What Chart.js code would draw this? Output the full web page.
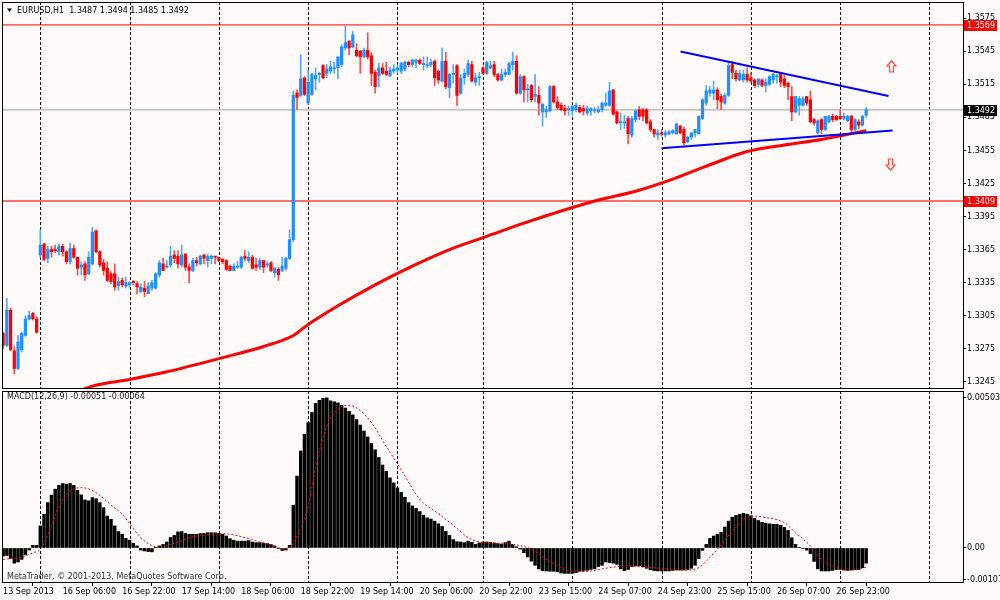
<!DOCTYPE html>
<html><head><meta charset="utf-8">
<script src="https://cdn.jsdelivr.net/npm/chart.js@4.4.1/dist/chart.umd.min.js"></script>
<style>
html,body{margin:0;padding:0;background:#fffafa;}
#wrap{position:relative;width:1000px;height:600px;overflow:hidden;background:#fffafa;}
#c1{position:absolute;left:0;top:0;}
#c2{position:absolute;left:0;top:390px;}
</style></head><body>
<div id="wrap"><canvas id="c1" width="1000" height="390"></canvas><canvas id="c2" width="1000" height="210"></canvas></div>
<script>
const symbolTitle = 'EURUSD,H1';
const open = [
1.3289,1.3278,1.3310,1.3273,1.3257,1.3274,1.3287,1.3302,1.3307,1.3302,
1.3360,1.3370,1.3357,1.3365,1.3365,1.3363,1.3368,1.3363,1.3354,1.3366,
1.3358,1.3349,1.3352,1.3343,1.3352,1.3382,1.3363,1.3353,1.3348,1.3343,
1.3343,1.3332,1.3337,1.3332,1.3333,1.3336,1.3334,1.3327,1.3330,1.3325,
1.3330,1.3330,1.3342,1.3352,1.3349,1.3351,1.3360,1.3359,1.3351,1.3361,
1.3349,1.3346,1.3355,1.3352,1.3360,1.3355,1.3357,1.3359,1.3358,1.3356,
1.3355,1.3350,1.3346,1.3349,1.3349,1.3359,1.3355,1.3358,1.3351,1.3349,
1.3355,1.3351,1.3353,1.3344,1.3347,1.3346,1.3348,1.3357,1.3374,1.3507,
1.3505,1.3521,1.3498,1.3506,1.3520,1.3524,1.3532,1.3525,1.3527,1.3529,
1.3530,1.3533,1.3548,1.3554,1.3549,1.3546,1.3545,1.3540,1.3546,1.3541,
1.3526,1.3523,1.3530,1.3527,1.3523,1.3527,1.3528,1.3527,1.3529,1.3535,
1.3533,1.3535,1.3537,1.3533,1.3532,1.3533,1.3536,1.3527,1.3518,1.3536,
1.3512,1.3524,1.3532,1.3507,1.3521,1.3524,1.3533,1.3517,1.3521,1.3530,
1.3525,1.3530,1.3533,1.3524,1.3519,1.3524,1.3524,1.3533,1.3536,1.3507,
1.3522,1.3510,1.3514,1.3504,1.3505,1.3490,1.3490,1.3491,1.3513,1.3499,
1.3496,1.3493,1.3492,1.3491,1.3492,1.3494,1.3493,1.3489,1.3491,1.3491,
1.3490,1.3492,1.3496,1.3496,1.3510,1.3490,1.3480,1.3480,1.3484,1.3469,
1.3483,1.3492,1.3492,1.3492,1.3481,1.3474,1.3469,1.3471,1.3469,1.3470,
1.3471,1.3470,1.3477,1.3474,1.3463,1.3467,1.3471,1.3470,1.3484,1.3498,
1.3507,1.3507,1.3510,1.3504,1.3498,1.3505,1.3533,1.3525,1.3519,1.3519,
1.3524,1.3521,1.3519,1.3515,1.3519,1.3514,1.3515,1.3519,1.3522,1.3524,
1.3520,1.3516,1.3504,1.3490,1.3496,1.3496,1.3504,1.3501,1.3483,1.3471,
1.3483,1.3474,1.3481,1.3486,1.3486,1.3486,1.3484,1.3482,1.3486,1.3474,
1.3481,1.3478,1.3487];
const high = [
1.3290,1.3321,1.3312,1.3277,1.3287,1.3290,1.3305,1.3309,1.3308,1.3304,
1.3383,1.3371,1.3368,1.3368,1.3369,1.3370,1.3370,1.3364,1.3371,1.3369,
1.3358,1.3354,1.3354,1.3363,1.3385,1.3383,1.3364,1.3356,1.3354,1.3345,
1.3352,1.3340,1.3339,1.3340,1.3336,1.3337,1.3336,1.3334,1.3336,1.3335,
1.3337,1.3344,1.3355,1.3357,1.3355,1.3368,1.3364,1.3364,1.3369,1.3361,
1.3352,1.3357,1.3358,1.3360,1.3361,1.3361,1.3360,1.3359,1.3358,1.3357,
1.3356,1.3351,1.3352,1.3354,1.3359,1.3364,1.3363,1.3360,1.3357,1.3357,
1.3355,1.3354,1.3354,1.3349,1.3349,1.3358,1.3358,1.3383,1.3509,1.3510,
1.3542,1.3522,1.3528,1.3525,1.3530,1.3526,1.3533,1.3533,1.3536,1.3535,
1.3540,1.3551,1.3568,1.3555,1.3563,1.3552,1.3546,1.3548,1.3562,1.3544,
1.3528,1.3534,1.3534,1.3535,1.3531,1.3533,1.3533,1.3535,1.3536,1.3536,
1.3538,1.3538,1.3538,1.3540,1.3540,1.3538,1.3537,1.3528,1.3548,1.3544,
1.3525,1.3533,1.3533,1.3524,1.3529,1.3537,1.3536,1.3525,1.3526,1.3531,
1.3536,1.3536,1.3536,1.3525,1.3529,1.3529,1.3535,1.3544,1.3541,1.3524,
1.3523,1.3515,1.3515,1.3524,1.3513,1.3498,1.3495,1.3514,1.3514,1.3504,
1.3498,1.3496,1.3495,1.3496,1.3498,1.3496,1.3496,1.3495,1.3494,1.3494,
1.3495,1.3499,1.3507,1.3517,1.3510,1.3491,1.3489,1.3487,1.3486,1.3486,
1.3492,1.3495,1.3493,1.3493,1.3483,1.3474,1.3474,1.3474,1.3473,1.3473,
1.3474,1.3480,1.3478,1.3476,1.3468,1.3471,1.3474,1.3486,1.3502,1.3514,
1.3513,1.3518,1.3512,1.3506,1.3507,1.3536,1.3536,1.3528,1.3528,1.3528,
1.3530,1.3525,1.3520,1.3520,1.3520,1.3520,1.3523,1.3525,1.3524,1.3526,
1.3523,1.3517,1.3513,1.3504,1.3504,1.3504,1.3504,1.3509,1.3484,1.3483,
1.3484,1.3486,1.3487,1.3488,1.3487,1.3492,1.3489,1.3487,1.3487,1.3484,
1.3483,1.3487,1.3494];
const low = [
1.3275,1.3277,1.3273,1.3252,1.3256,1.3272,1.3286,1.3301,1.3301,1.3289,
1.3358,1.3355,1.3353,1.3358,1.3362,1.3360,1.3359,1.3352,1.3352,1.3357,
1.3342,1.3342,1.3337,1.3342,1.3351,1.3362,1.3349,1.3342,1.3336,1.3334,
1.3328,1.3328,1.3331,1.3330,1.3330,1.3333,1.3325,1.3326,1.3322,1.3325,
1.3328,1.3329,1.3340,1.3346,1.3348,1.3349,1.3353,1.3348,1.3349,1.3346,
1.3335,1.3345,1.3350,1.3351,1.3352,1.3349,1.3352,1.3352,1.3354,1.3352,
1.3346,1.3346,1.3346,1.3348,1.3348,1.3355,1.3353,1.3347,1.3346,1.3347,
1.3344,1.3349,1.3345,1.3340,1.3337,1.3345,1.3346,1.3356,1.3372,1.3492,
1.3504,1.3505,1.3497,1.3505,1.3510,1.3517,1.3520,1.3521,1.3525,1.3525,
1.3520,1.3531,1.3546,1.3542,1.3548,1.3540,1.3525,1.3539,1.3538,1.3514,
1.3507,1.3513,1.3524,1.3523,1.3522,1.3525,1.3525,1.3525,1.3527,1.3531,
1.3531,1.3530,1.3533,1.3528,1.3530,1.3531,1.3514,1.3516,1.3517,1.3511,
1.3503,1.3516,1.3496,1.3506,1.3515,1.3522,1.3517,1.3514,1.3514,1.3524,
1.3524,1.3529,1.3522,1.3518,1.3518,1.3522,1.3524,1.3528,1.3506,1.3506,
1.3499,1.3499,1.3499,1.3499,1.3487,1.3477,1.3485,1.3490,1.3498,1.3492,
1.3491,1.3487,1.3487,1.3487,1.3490,1.3489,1.3487,1.3487,1.3487,1.3489,
1.3489,1.3490,1.3495,1.3495,1.3487,1.3479,1.3474,1.3475,1.3461,1.3467,
1.3481,1.3483,1.3482,1.3479,1.3472,1.3467,1.3465,1.3468,1.3467,1.3469,
1.3470,1.3470,1.3470,1.3460,1.3462,1.3465,1.3467,1.3470,1.3483,1.3496,
1.3504,1.3501,1.3493,1.3492,1.3497,1.3504,1.3520,1.3518,1.3518,1.3517,
1.3517,1.3517,1.3512,1.3513,1.3513,1.3508,1.3514,1.3516,1.3516,1.3513,
1.3512,1.3501,1.3482,1.3489,1.3487,1.3495,1.3496,1.3480,1.3478,1.3470,
1.3470,1.3473,1.3480,1.3481,1.3482,1.3483,1.3483,1.3481,1.3471,1.3473,
1.3475,1.3477,1.3485];
const close = [
1.3278,1.3310,1.3274,1.3257,1.3281,1.3289,1.3302,1.3305,1.3302,1.3290,
1.3369,1.3356,1.3365,1.3363,1.3364,1.3368,1.3363,1.3354,1.3366,1.3358,
1.3348,1.3351,1.3342,1.3358,1.3381,1.3363,1.3351,1.3346,1.3337,1.3336,
1.3331,1.3336,1.3333,1.3335,1.3335,1.3335,1.3331,1.3331,1.3327,1.3332,
1.3335,1.3343,1.3353,1.3346,1.3350,1.3359,1.3357,1.3352,1.3360,1.3349,
1.3346,1.3355,1.3353,1.3359,1.3357,1.3359,1.3359,1.3358,1.3355,1.3354,
1.3347,1.3346,1.3350,1.3350,1.3358,1.3357,1.3358,1.3348,1.3349,1.3355,
1.3349,1.3352,1.3346,1.3348,1.3342,1.3350,1.3357,1.3374,1.3505,1.3503,
1.3520,1.3506,1.3517,1.3524,1.3523,1.3525,1.3521,1.3529,1.3531,1.3530,
1.3540,1.3549,1.3553,1.3548,1.3560,1.3541,1.3540,1.3546,1.3540,1.3525,
1.3513,1.3530,1.3525,1.3524,1.3528,1.3529,1.3530,1.3534,1.3535,1.3533,
1.3537,1.3537,1.3534,1.3534,1.3533,1.3535,1.3521,1.3519,1.3536,1.3513,
1.3524,1.3525,1.3505,1.3521,1.3525,1.3534,1.3518,1.3521,1.3522,1.3525,
1.3535,1.3532,1.3524,1.3519,1.3524,1.3526,1.3534,1.3536,1.3507,1.3522,
1.3510,1.3511,1.3501,1.3506,1.3498,1.3497,1.3492,1.3513,1.3499,1.3494,
1.3492,1.3491,1.3493,1.3495,1.3496,1.3490,1.3491,1.3493,1.3493,1.3492,
1.3492,1.3498,1.3498,1.3509,1.3488,1.3480,1.3481,1.3481,1.3470,1.3484,
1.3491,1.3486,1.3486,1.3480,1.3474,1.3470,1.3471,1.3470,1.3471,1.3472,
1.3473,1.3479,1.3471,1.3462,1.3467,1.3471,1.3474,1.3486,1.3501,1.3509,
1.3510,1.3510,1.3501,1.3499,1.3505,1.3532,1.3526,1.3520,1.3525,1.3524,
1.3519,1.3518,1.3514,1.3520,1.3514,1.3517,1.3522,1.3524,1.3523,1.3517,
1.3514,1.3513,1.3490,1.3504,1.3502,1.3502,1.3498,1.3481,1.3480,1.3482,
1.3474,1.3486,1.3486,1.3483,1.3483,1.3484,1.3486,1.3486,1.3474,1.3483,
1.3478,1.3486,1.3492];
const macd = [
-0.00027,-0.00025,-0.00035,-0.00051,-0.00047,-0.00038,-0.00023,-0.00007,0.00009,0.00009,
0.00074,0.00113,0.00152,0.00177,0.00197,0.00210,0.00216,0.00214,0.00216,0.00210,
0.00193,0.00178,0.00161,0.00158,0.00169,0.00165,0.00152,0.00135,0.00107,0.00096,
0.00074,0.00055,0.00046,0.00032,0.00026,0.00016,0.00007,-0.00007,-0.00010,-0.00012,
-0.00013,0.00001,0.00007,0.00012,0.00020,0.00035,0.00042,0.00054,0.00055,0.00049,
0.00046,0.00046,0.00046,0.00048,0.00049,0.00051,0.00051,0.00051,0.00049,0.00046,
0.00040,0.00031,0.00026,0.00023,0.00023,0.00023,0.00025,0.00020,0.00018,0.00018,
0.00016,0.00015,0.00012,0.00007,-0.00002,-0.00008,-0.00007,0.00009,0.00143,0.00241,
0.00325,0.00381,0.00420,0.00454,0.00485,0.00495,0.00501,0.00503,0.00493,0.00490,
0.00486,0.00478,0.00469,0.00458,0.00446,0.00430,0.00412,0.00392,0.00372,0.00350,
0.00329,0.00303,0.00278,0.00257,0.00235,0.00218,0.00201,0.00186,0.00170,0.00152,
0.00141,0.00133,0.00122,0.00110,0.00101,0.00097,0.00090,0.00081,0.00072,0.00056,
0.00042,0.00028,0.00021,0.00020,0.00018,0.00023,0.00019,0.00012,0.00017,0.00020,
0.00020,0.00019,0.00017,0.00015,0.00012,0.00018,0.00023,0.00012,0.00004,-0.00004,
-0.00016,-0.00030,-0.00044,-0.00058,-0.00070,-0.00076,-0.00077,-0.00078,-0.00078,-0.00080,
-0.00084,-0.00085,-0.00085,-0.00085,-0.00083,-0.00078,-0.00077,-0.00075,-0.00072,-0.00070,
-0.00062,-0.00058,-0.00047,-0.00049,-0.00051,-0.00055,-0.00070,-0.00076,-0.00072,-0.00063,
-0.00060,-0.00060,-0.00063,-0.00068,-0.00073,-0.00076,-0.00077,-0.00077,-0.00077,-0.00077,
-0.00075,-0.00074,-0.00074,-0.00074,-0.00072,-0.00068,-0.00058,-0.00036,-0.00008,0.00012,
0.00032,0.00040,0.00046,0.00052,0.00070,0.00090,0.00103,0.00109,0.00113,0.00116,
0.00113,0.00108,0.00099,0.00092,0.00086,0.00083,0.00081,0.00079,0.00079,0.00076,
0.00069,0.00059,0.00034,0.00012,0.00002,-0.00002,-0.00007,-0.00019,-0.00045,-0.00070,
-0.00077,-0.00077,-0.00077,-0.00075,-0.00072,-0.00072,-0.00074,-0.00075,-0.00074,-0.00073,
-0.00072,-0.00066,-0.00051];
const signalIdx = [0,5,8,10,13,15,18,21,24,26,29,32,34,37,40,42,45,48,50,53,56,58,61,64,67,69,72,75,77,79,82,84,87,90,93,96,99,103,107,112,117,121,125,128,134,137,142,145,150,153,158,163,168,172,178,183,187,189,192,196,199,201,205,210,213,217,220,224,227,230,232];
const signalVal = [-0.00038,-0.00031,-0.00016,-0.00004,0.00074,0.00140,0.00190,0.00202,0.00193,0.00176,0.00144,0.00113,0.00082,0.00035,0.00008,0.00001,0.00012,0.00024,0.00034,0.00042,0.00046,0.00048,0.00046,0.00038,0.00028,0.00020,0.00011,-0.00002,0.00002,0.00040,0.00140,0.00270,0.00409,0.00465,0.00478,0.00460,0.00420,0.00340,0.00262,0.00163,0.00115,0.00076,0.00035,0.00020,0.00015,0.00012,-0.00004,-0.00030,-0.00066,-0.00080,-0.00077,-0.00066,-0.00060,-0.00064,-0.00069,-0.00074,-0.00066,-0.00044,-0.00004,0.00057,0.00095,0.00107,0.00102,0.00085,0.00051,0.00007,-0.00038,-0.00066,-0.00074,-0.00070,-0.00064];
const maIdx = [20,24,34,44,58,70,78,82,90,100,110,120,130,140,150,160,170,180,190,200,210,220,232];
const maVal = [1.3236,1.3241,1.3247,1.3254,1.3266,1.3277,1.3287,1.3297,1.3314,1.3333,1.3350,1.3365,1.3377,1.3389,1.3400,1.3410,1.3418,1.3429,1.3442,1.3454,1.3460,1.3465,1.3473];
const trendUpperIdx = [182.1, 238.0];
const trendUpperVal = [1.35449, 1.35044];
const trendLowerIdx = [177.0, 239.1];
const trendLowerVal = [1.34569, 1.34731];
const arrowIdx = [238.7, 238.5];
const arrowVal = [1.35317, 1.34427];
const arrowDir = [1, -1];
const levelPrices = [1.3569, 1.3409];
const priceTicks = [1.3245,1.3275,1.3305,1.3335,1.3365,1.3395,1.3425,1.3455,1.3485,1.3515,1.3545,1.3575];
const macdTicks = [0.00503, 0, -0.00107];
const macdTickLabels = ['0.00503', '0.00', '-0.00107'];
const xLabelIdx = [0,16,32,48,64,80,96,112,128,144,160,176,192,208,224];
const xLabels = ['13 Sep 2013','16 Sep 06:00','16 Sep 22:00','17 Sep 14:00','18 Sep 06:00','18 Sep 22:00','19 Sep 14:00','20 Sep 06:00','20 Sep 22:00','23 Sep 15:00','24 Sep 07:00','24 Sep 23:00','25 Sep 15:00','26 Sep 07:00','26 Sep 23:00'];
const daySeps = [10,34,58,82,106,129,153,177,201,225,249];

const X_MIN = -0.3, X_MAX = 258.03;
const FONT = '"DejaVu Sans", sans-serif';
Chart.defaults.font.family = FONT;
Chart.defaults.font.size = 8;
Chart.defaults.color = '#000';

const n = close.length;
const isBull = close.map((c, i) => c >= open[i]);
const hline = p => [{x: X_MIN, y: p}, {x: X_MAX, y: p}];
const pts = (xs, ys) => xs.map((x, k) => ({x, y: ys[k]}));

const frameSeps = {
  id: 'frameSeps',
  beforeDatasetsDraw(chart) {
    const {ctx, chartArea: a} = chart; const xs = chart.scales.x;
    ctx.save();
    ctx.beginPath(); ctx.rect(a.left, a.top, a.right - a.left, a.bottom - a.top); ctx.clip();
    ctx.strokeStyle = '#000'; ctx.lineWidth = 1; ctx.setLineDash([3, 2]);
    daySeps.forEach(d => {
      const px = Math.round(xs.getPixelForValue(d)) + 0.5;
      ctx.beginPath(); ctx.moveTo(px, a.top); ctx.lineTo(px, a.bottom); ctx.stroke();
    });
    ctx.restore();
  },
  afterDraw(chart) {
    const {ctx, chartArea: a} = chart;
    ctx.save(); ctx.strokeStyle = '#000'; ctx.lineWidth = 1; ctx.setLineDash([]);
    const l = Math.round(a.left), t = Math.round(a.top), r = Math.round(a.right), b = Math.round(a.bottom);
    ctx.strokeRect(l + 0.5, t + 0.5, r - l, b - t);
    ctx.restore();
  }
};

function drawArrow(ctx, cx, cy, dir) {
  // block arrow, 9px wide, 11px tall; dir 1 = up, -1 = down
  const s = dir;
  ctx.beginPath();
  ctx.moveTo(cx, cy - 5.5 * s);
  ctx.lineTo(cx + 4.5, cy - 0.5 * s);
  ctx.lineTo(cx + 2, cy - 0.5 * s);
  ctx.lineTo(cx + 2, cy + 5.5 * s);
  ctx.lineTo(cx - 2, cy + 5.5 * s);
  ctx.lineTo(cx - 2, cy - 0.5 * s);
  ctx.lineTo(cx - 4.5, cy - 0.5 * s);
  ctx.closePath();
  ctx.fillStyle = '#fff4ea'; ctx.fill();
  ctx.strokeStyle = '#ff4a4a'; ctx.lineWidth = 1.2; ctx.stroke();
}

const topDeco = {
  id: 'topDeco',
  afterDraw(chart) {
    const {ctx} = chart; const xs = chart.scales.x, ys = chart.scales.y;
    ctx.save();
    ctx.font = '8px ' + FONT; ctx.textBaseline = 'middle'; ctx.textAlign = 'left';
    ctx.fillStyle = '#000';
    ctx.beginPath(); ctx.moveTo(7, 8.5); ctx.lineTo(12, 8.5); ctx.lineTo(9.5, 12); ctx.closePath(); ctx.fill();
    const L = n - 1;
    ctx.fillText(symbolTitle + '  ' + open[L].toFixed(4) + ' ' + high[L].toFixed(4) + ' ' + low[L].toFixed(4) + ' ' + close[L].toFixed(4), 17, 11);
    const boxes = [[levelPrices[0], '#ff0000'], [levelPrices[1], '#ff0000'], [close[L], '#000000']];
    boxes.forEach(([p, bg]) => {
      const py = Math.round(ys.getPixelForValue(p));
      ctx.fillStyle = bg; ctx.fillRect(964, py - 5, 33, 11);
      ctx.fillStyle = '#fff'; ctx.fillText(p.toFixed(4), 967, py + 0.5);
    });
    arrowIdx.forEach((ix, k) => {
      drawArrow(ctx, Math.round(xs.getPixelForValue(ix)) + 0.5, Math.round(ys.getPixelForValue(arrowVal[k])) + 0.5, arrowDir[k]);
    });
    ctx.restore();
  }
};

const macdDeco = {
  id: 'macdDeco',
  afterDraw(chart) {
    const {ctx, chartArea: a} = chart;
    ctx.save();
    ctx.font = '8px ' + FONT; ctx.textBaseline = 'middle'; ctx.textAlign = 'left';
    ctx.fillStyle = '#202020';
    ctx.fillText('MACD(12,26,9) ' + macd[n - 1].toFixed(5) + ' ' + signalVal[signalVal.length - 1].toFixed(5), 7, a.top + 6);
    ctx.fillStyle = '#303030';
    ctx.fillText('MetaTrader, \u00A9 2001-2013, MetaQuotes Software Corp.', 7, a.bottom - 5);
    ctx.restore();
  }
};

const rightAxis = (extra) => Object.assign({
  position: 'right',
  afterFit: s => { s.width = 37; s.paddingTop = 0; s.paddingBottom = 0; },
  grid: {drawOnChartArea: false, drawTicks: true, tickLength: 3, tickColor: '#000', color: '#000'},
  border: {display: true, color: '#000', width: 1}
}, extra);

new Chart(document.getElementById('c1'), {
  type: 'bar',
  data: {datasets: [
    {type: 'line', data: pts(trendUpperIdx, trendUpperVal), borderColor: '#0000ff', borderWidth: 2, pointRadius: 0, order: 0},
    {type: 'line', data: pts(trendLowerIdx, trendLowerVal), borderColor: '#0000ff', borderWidth: 2, pointRadius: 0, order: 0},
    {type: 'line', data: pts(maIdx, maVal), borderColor: '#ff0000', borderWidth: 3, pointRadius: 0, cubicInterpolationMode: 'monotone', clip: 0, order: 1},
    {data: open.map((o, i) => ({x: i, y: [o, close[i]]})), backgroundColor: isBull.map(b => b ? '#1e90ff' : '#ff0000'), barThickness: 2.6, minBarLength: 1, grouped: false, order: 2},
    {data: low.map((l, i) => ({x: i, y: [l, high[i]]})), backgroundColor: isBull.map(b => b ? '#55a8ff' : '#ff4a4a'), barThickness: 1, minBarLength: 1, grouped: false, order: 3},
    {type: 'line', data: hline(levelPrices[0]), borderColor: '#ff0000', borderWidth: 1, pointRadius: 0, order: 4},
    {type: 'line', data: hline(levelPrices[1]), borderColor: '#ff4040', borderWidth: 1.5, pointRadius: 0, order: 4},
    {type: 'line', data: hline(close[n - 1]), borderColor: '#c8c8c8', borderWidth: 2, pointRadius: 0, order: 5}
  ]},
  options: {
    responsive: false, animation: false, events: [],
    layout: {padding: {left: 2, right: 0, top: 2, bottom: 2}},
    plugins: {legend: {display: false}, tooltip: {enabled: false}},
    scales: {
      x: {type: 'linear', min: X_MIN, max: X_MAX, display: false, offset: false},
      y: rightAxis({
        min: 1.32393, max: 1.35898,
        afterBuildTicks: s => { s.ticks = priceTicks.map(v => ({value: v})); },
        ticks: {callback: v => Number(v).toFixed(4), padding: 1, color: '#000', autoSkip: false}
      })
    }
  },
  plugins: [frameSeps, topDeco]
});

new Chart(document.getElementById('c2'), {
  type: 'bar',
  data: {datasets: [
    {type: 'line', data: pts(signalIdx, signalVal), borderColor: '#ff0000', borderWidth: 1, borderDash: [2, 2], pointRadius: 0, cubicInterpolationMode: 'monotone', order: 0},
    {data: macd.map((v, i) => ({x: i, y: v})), backgroundColor: '#000', barThickness: 2.8, grouped: false, order: 1}
  ]},
  options: {
    responsive: false, animation: false, events: [],
    layout: {padding: {left: 2, right: 0, top: 1, bottom: 0}},
    plugins: {legend: {display: false}, tooltip: {enabled: false}},
    scales: {
      x: {
        type: 'linear', min: X_MIN, max: X_MAX, offset: false, position: 'bottom',
        afterBuildTicks: s => { s.ticks = xLabelIdx.map(v => ({value: v})); },
        afterFit: s => { s.height = 18; s.paddingLeft = 0; s.paddingRight = 0; },
        ticks: {autoSkip: false, maxRotation: 0, minRotation: 0, align: 'start', padding: 1, color: '#000', callback: (v, k) => xLabels[k]},
        grid: {drawOnChartArea: false, drawTicks: true, tickLength: 4, tickColor: '#000'},
        border: {display: false}
      },
      y: rightAxis({
        min: -0.00114, max: 0.00526,
        afterBuildTicks: s => { s.ticks = macdTicks.map(v => ({value: v})); },
        ticks: {callback: (v, k) => macdTickLabels[k], padding: 1, color: '#000', autoSkip: false}
      })
    }
  },
  plugins: [frameSeps, macdDeco]
});
</script>
</body></html>
